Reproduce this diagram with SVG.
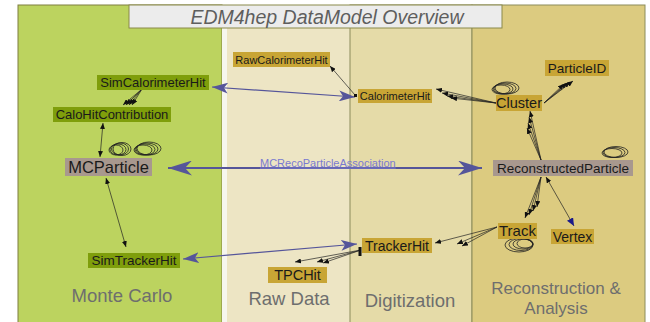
<svg xmlns="http://www.w3.org/2000/svg" width="650" height="322" viewBox="0 0 650 322">
<style>
.panel-label{font-family:"Liberation Sans",Arial,sans-serif;font-size:18.5px;fill:#6e6e6e;text-anchor:middle}
.nl{font-family:"Liberation Sans",Arial,sans-serif;fill:#1a1a1a;text-anchor:middle}
.g{fill:#7f9e0b}
.y{fill:#c8a535}
.m{fill:#a8988e}
.thina{stroke:#222;stroke-width:0.7;fill:none;marker-end:url(#ah)}
.loop{stroke:#222;stroke-width:0.8;fill:none}
.blue{stroke:#55559a;stroke-width:1.2;fill:none;marker-start:url(#bs);marker-end:url(#bs)}
</style>
<defs>
<marker id="ah" markerUnits="userSpaceOnUse" markerWidth="6" markerHeight="5" refX="6" refY="2.5" orient="auto"><path d="M0,0 L6,2.5 L0,5 Z" fill="#111"/></marker>
<marker id="ahb" markerUnits="userSpaceOnUse" markerWidth="8" markerHeight="7" refX="8" refY="3.5" orient="auto-start-reverse"><path d="M0,0 L8,3.5 L0,7 Z" fill="#1a1a8a"/></marker>
<marker id="ahk" markerUnits="userSpaceOnUse" markerWidth="6" markerHeight="5" refX="6" refY="2.5" orient="auto-start-reverse"><path d="M0,0 L6,2.5 L0,5 Z" fill="#111"/></marker>
<marker id="bs" markerUnits="userSpaceOnUse" markerWidth="16" markerHeight="11" refX="16" refY="5.5" orient="auto-start-reverse"><path d="M0,0 L16,5.5 L0,11 L4,5.5 Z" fill="#55559a"/></marker>
<marker id="bb" markerUnits="userSpaceOnUse" markerWidth="24" markerHeight="15" refX="24" refY="7.5" orient="auto-start-reverse"><path d="M0,0 L24,7.5 L0,15 L7,7.5 Z" fill="#55559a"/></marker>
</defs>

<g id="panels">
<rect x="0" y="0" width="650" height="322" fill="#ffffff"/>
<rect x="18" y="5" width="204" height="320" fill="#bcd35f" stroke="#7f7f40" stroke-width="1"/>
<rect x="222" y="5" width="5" height="320" fill="#f6f6ee"/>
<rect x="227" y="5" width="123" height="320" fill="#ede5c4"/>
<rect x="350" y="5" width="122" height="320" fill="#e5dba8" stroke="#8c8c5a" stroke-width="1"/>
<rect x="472" y="5" width="173" height="320" fill="#dccb80" stroke="#8c8c5a" stroke-width="1"/>
<rect x="129" y="5" width="373" height="23" fill="#ececec" stroke="#8a8a4a" stroke-width="1"/>
<text x="327" y="24" font-family="'Liberation Sans',Arial,sans-serif" font-size="19.5" font-style="italic" fill="#5e5e5e" text-anchor="middle">EDM4hep DataModel Overview</text>
<text class="panel-label" x="122" y="302">Monte Carlo</text>
<text class="panel-label" x="289" y="305">Raw Data</text>
<text class="panel-label" x="410" y="307">Digitization</text>
<text class="panel-label" x="556" y="294" style="font-size:17px">Reconstruction &amp;</text>
<text class="panel-label" x="556" y="313.5" style="font-size:17px">Analysis</text>
</g>

<g id="connectors">
<ellipse class="loop" cx="122" cy="149" rx="9" ry="6.5"/>
<ellipse class="loop" cx="120" cy="149" rx="8.5" ry="6"/>
<ellipse class="loop" cx="118" cy="149.5" rx="8" ry="5.5"/>
<ellipse class="loop" cx="116" cy="150" rx="7" ry="5"/>
<ellipse class="loop" cx="149" cy="148.5" rx="12" ry="6.5"/>
<ellipse class="loop" cx="147" cy="149" rx="11" ry="6"/>
<ellipse class="loop" cx="145" cy="149.5" rx="10" ry="5.5"/>
<ellipse class="loop" cx="143" cy="150" rx="9" ry="5"/>
<ellipse class="loop" cx="507" cy="88" rx="12" ry="6"/>
<ellipse class="loop" cx="505" cy="88.5" rx="11" ry="5.5"/>
<ellipse class="loop" cx="503" cy="89" rx="10" ry="5"/>
<ellipse class="loop" cx="501" cy="89.5" rx="9" ry="4.5"/>
<ellipse class="loop" cx="616" cy="152" rx="12" ry="5.5"/>
<ellipse class="loop" cx="614" cy="152.5" rx="11" ry="5"/>
<ellipse class="loop" cx="612" cy="153" rx="10" ry="4.5"/>
<ellipse class="loop" cx="519" cy="245" rx="14" ry="7"/>
<ellipse class="loop" cx="521" cy="244.5" rx="12" ry="6"/>
<ellipse class="loop" cx="523" cy="244" rx="10" ry="5"/>
<ellipse class="loop" cx="525" cy="243.5" rx="8" ry="4.5"/>

<line x1="168" y1="168" x2="482" y2="168" stroke="#55559a" stroke-width="2" marker-start="url(#bb)" marker-end="url(#bb)"/>
<text x="260" y="166.5" font-family="'Liberation Sans',Arial,sans-serif" font-size="11" fill="#7a7ad0" text-decoration="underline">MCRecoParticleAssociation</text>
<line class="blue" x1="212" y1="87" x2="355" y2="97"/>
<line class="blue" x1="183" y1="259" x2="357" y2="244"/>

<line x1="355" y1="95" x2="330" y2="66" class="thina"/>
<rect x="354" y="94" width="3" height="3" fill="#111"/>
<line class="thina" x1="496" y1="103" x2="436" y2="89"/>
<line class="thina" x1="496" y1="103" x2="442" y2="93"/>
<line class="thina" x1="496" y1="103" x2="447" y2="96"/>
<line class="thina" x1="496" y1="103" x2="451" y2="98"/>
<line class="thina" x1="544" y1="103" x2="564" y2="84"/>
<line class="thina" x1="544" y1="103" x2="567" y2="83"/>
<line class="thina" x1="544" y1="103" x2="570" y2="82"/>
<line class="thina" x1="544" y1="103" x2="573" y2="81"/>
<line class="thina" x1="541" y1="160" x2="530" y2="111"/>
<line class="thina" x1="541" y1="160" x2="529" y2="117"/>
<line class="thina" x1="541" y1="160" x2="528" y2="123"/>
<line class="thina" x1="541" y1="160" x2="527" y2="128"/>
<line class="thina" x1="541" y1="177" x2="525" y2="218"/>
<line class="thina" x1="541" y1="177" x2="529" y2="215"/>
<line class="thina" x1="541" y1="177" x2="533" y2="211"/>
<line class="thina" x1="541" y1="177" x2="537" y2="207"/>
<line x1="546" y1="177" x2="574" y2="226" stroke="#222" stroke-width="0.7" marker-start="url(#ahk)" marker-end="url(#ahb)"/>
<line class="thina" x1="497" y1="227" x2="435" y2="243"/>
<line class="thina" x1="497" y1="227" x2="457" y2="244"/>
<line class="thina" x1="497" y1="227" x2="462" y2="246"/>
<line class="thina" x1="361" y1="250" x2="295" y2="262"/>
<line class="thina" x1="361" y1="250" x2="317" y2="262"/>
<line class="thina" x1="361" y1="250" x2="323" y2="263"/>
<rect x="358.5" y="247" width="3" height="9" fill="#111"/>
<line class="thina" x1="142" y1="89" x2="123" y2="105"/>
<line class="thina" x1="142" y1="89" x2="126" y2="105"/>
<line class="thina" x1="142" y1="89" x2="129" y2="105"/>
<line class="thina" x1="142" y1="89" x2="132" y2="105"/>
<line x1="100" y1="157" x2="103" y2="123" stroke="#222" stroke-width="0.7" marker-start="url(#ahk)" marker-end="url(#ahk)"/>
<line x1="106" y1="178" x2="126" y2="247" stroke="#222" stroke-width="0.7" marker-start="url(#ahk)" marker-end="url(#ahk)"/>
</g>

<g id="SimCalorimeterHit"><rect class="g" x="97" y="75" width="112" height="15"/><text class="nl" x="153" y="87" font-size="13">SimCalorimeterHit</text></g>
<g id="CaloHitContribution"><rect class="g" x="53" y="107" width="118" height="15"/><text class="nl" x="112" y="119" font-size="13">CaloHitContribution</text></g>
<g id="MCParticle"><rect class="m" x="65" y="158" width="87" height="18"/><text class="nl" x="108.5" y="173" font-size="16.5">MCParticle</text></g>
<g id="SimTrackerHit"><rect class="g" x="88" y="253" width="92" height="15"/><text class="nl" x="134" y="265" font-size="13.5">SimTrackerHit</text></g>
<g id="RawCalorimeterHit"><rect class="y" x="233" y="52" width="97" height="15"/><text class="nl" x="281.5" y="63.5" font-size="11">RawCalorimeterHit</text></g>
<g id="CalorimeterHit"><rect class="y" x="358" y="89" width="74" height="14"/><text class="nl" x="395" y="100" font-size="11">CalorimeterHit</text></g>
<g id="Cluster"><rect class="y" x="496" y="95" width="46" height="16"/><text class="nl" x="519" y="108" font-size="14.5">Cluster</text></g>
<g id="ParticleID"><rect class="y" x="545" y="60" width="64" height="16"/><text class="nl" x="577" y="72.5" font-size="13.5">ParticleID</text></g>
<g id="ReconstructedParticle"><rect class="m" x="493" y="160" width="140" height="16"/><text class="nl" x="563" y="172.5" font-size="13.5">ReconstructedParticle</text></g>
<g id="Track"><rect class="y" x="498" y="223" width="39" height="16"/><text class="nl" x="517.5" y="236" font-size="15">Track</text></g>
<g id="Vertex"><rect class="y" x="551" y="229" width="43" height="15"/><text class="nl" x="572.5" y="241.5" font-size="14">Vertex</text></g>
<g id="TrackerHit"><rect class="y" x="362" y="238" width="70" height="15"/><text class="nl" x="397" y="250.5" font-size="14">TrackerHit</text></g>
<g id="TPCHit"><rect class="y" x="268" y="267" width="59" height="16"/><text class="nl" x="297.5" y="280" font-size="14.5">TPCHit</text></g>
</svg>
